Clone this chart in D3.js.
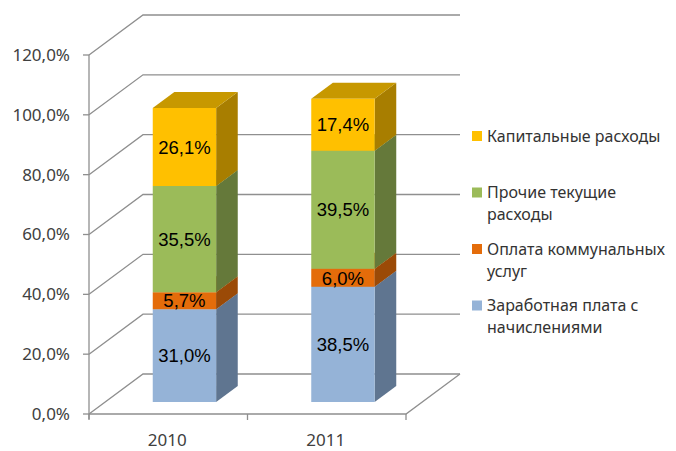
<!DOCTYPE html>
<html>
<head>
<meta charset="utf-8">
<script src="https://cdn.jsdelivr.net/npm/d3@7"></script>
<style>
  body { margin: 0; background: #fff; }
  svg { display: block; }
</style>
</head>
<body>
<script>
const years = ["2010", "2011"];
const seriesNames = [
  "Заработная плата с начислениями",
  "Оплата коммунальных услуг",
  "Прочие текущие расходы",
  "Капитальные расходы"
];
// values in %, bottom to top
const wages = [31.0, 38.5];
const utilities = [5.7, 6.0];
const otherCurrent = [35.5, 39.5];
const capital = [26.1, 17.4];
const yTicks = [0, 20, 40, 60, 80, 100, 120];
// legend is shown top to bottom, lines as they wrap
const legendLines = [
  ["Капитальные расходы"],
  ["Прочие текущие", "расходы"],
  ["Оплата коммунальных", "услуг"],
  ["Заработная плата с", "начислениями"]
];

const palette = [
  { front: "#95b3d7", side: "#5f7590", top: "#7891b0" },
  { front: "#e46c0a", side: "#9b4a07", top: "#bd5908" },
  { front: "#9bbb59", side: "#65793a", top: "#809a48" },
  { front: "#ffc000", side: "#a87e00", top: "#c79800" }
];
const legendColors = ["#ffc000", "#9bbb59", "#e46c0a", "#95b3d7"];

const width = 676, height = 451;
const DX = 54, DY = 40;        // depth of the 3d box
const z0 = 0.3, z1 = 0.7;      // bar depth within the box

const svg = d3.select("body").append("svg")
  .attr("width", width)
  .attr("height", height);

const x = d3.scaleBand()
  .domain(years)
  .range([89, 406])
  .paddingInner(0.6)
  .paddingOuter(0.3);

const y = d3.scaleLinear()
  .domain([0, 120])
  .range([414, 55]);

const proj = (px, v, z) => [px + z * DX, y(v) - z * DY];
const poly = pts => "M" + pts.map(p => p.join(",")).join("L") + "Z";

const gridColor = "#8f8f8f";
const grid = svg.append("g")
  .attr("fill", "none")
  .attr("stroke", gridColor)
  .attr("stroke-width", 1.3);

// gridlines on left wall + back wall
yTicks.forEach(t => {
  const a = proj(x.range()[0], t, 0), b = proj(x.range()[0], t, 1), c = proj(x.range()[1], t, 1);
  grid.append("path").attr("d", `M${a}L${b}L${c}`);
});

// floor
const x0 = x.range()[0], x1 = x.range()[1];
grid.append("path").attr("d", `M${proj(x0, 0, 0)}L${proj(x1, 0, 0)}L${proj(x1, 0, 1)}`);

// vertical axis
grid.append("line")
  .attr("x1", x0).attr("x2", x0)
  .attr("y1", y(120)).attr("y2", y(0) + 5);
yTicks.forEach(t => {
  grid.append("line")
    .attr("x1", x0 - 6).attr("x2", x0)
    .attr("y1", y(t)).attr("y2", y(t));
});
// category ticks
[x0, x0 + x.step(), x1].forEach(px => {
  grid.append("line")
    .attr("x1", px).attr("x2", px)
    .attr("y1", y(0)).attr("y2", y(0) + 6);
});

svg.append("g")
  .attr("font-family", "'Noto Sans', sans-serif")
  .attr("font-size", 17)
  .attr("fill", "#404040")
  .selectAll("text")
  .data(yTicks)
  .join("text")
  .attr("x", 70)
  .attr("y", d => y(d))
  .attr("dy", "0.35em")
  .attr("text-anchor", "end")
  .text(d => d3.format(".1f")(d).replace(".", ",") + "%");

svg.append("g")
  .attr("font-family", "'Noto Sans', sans-serif")
  .attr("font-size", 17)
  .attr("fill", "#404040")
  .selectAll("text")
  .data(years)
  .join("text")
  .attr("x", d => x(d) + x.bandwidth() / 2 - 1)
  .attr("y", 446)
  .attr("text-anchor", "middle")
  .text(d => d);

// stacked bars
const table = years.map((yr, i) => ({
  year: yr, vals: [wages[i], utilities[i], otherCurrent[i], capital[i]]
}));
const stack = d3.stack().keys([0, 1, 2, 3]).value((d, k) => d.vals[k]);
const layers = stack(table);

const bars = svg.append("g");
const labels = [];
table.forEach((d, i) => {
  const bx0 = x(d.year), bx1 = bx0 + x.bandwidth();
  layers.forEach((layer, k) => {
    const [v0, v1] = layer[i];
    const col = palette[k];
    const g = bars.append("g");
    // side
    g.append("path")
      .attr("d", poly([proj(bx1, v0, z0), proj(bx1, v0, z1), proj(bx1, v1, z1), proj(bx1, v1, z0)]))
      .attr("fill", col.side);
    // top
    g.append("path")
      .attr("d", poly([proj(bx0, v1, z0), proj(bx1, v1, z0), proj(bx1, v1, z1), proj(bx0, v1, z1)]))
      .attr("fill", col.top);
    // front
    g.append("path")
      .attr("d", poly([proj(bx0, v0, z0), proj(bx1, v0, z0), proj(bx1, v1, z0), proj(bx0, v1, z0)]))
      .attr("fill", col.front);
    const c = proj((bx0 + bx1) / 2, (v0 + v1) / 2, z0);
    labels.push({ x: c[0], y: c[1], v: v1 - v0 });
  });
});

svg.append("g")
  .attr("font-family", "'Liberation Sans', Arial, sans-serif")
  .attr("font-size", 18.5)
  .attr("fill", "#000")
  .selectAll("text")
  .data(labels)
  .join("text")
  .attr("x", d => d.x)
  .attr("y", d => d.y)
  .attr("dy", "0.36em")
  .attr("text-anchor", "middle")
  .text(d => d3.format(".1f")(d.v).replace(".", ",") + "%");

// legend
const legend = svg.append("g")
  .attr("font-family", "'Noto Sans', sans-serif")
  .attr("font-size", 16)
  .attr("fill", "#333");
legendLines.forEach((lines, i) => {
  const ly = 136 + 56.5 * i;
  legend.append("rect")
    .attr("x", 472).attr("y", ly - 5)
    .attr("width", 10).attr("height", 10)
    .attr("fill", legendColors[i]);
  const t = legend.append("text")
    .attr("x", 487).attr("y", ly);
  lines.forEach((ln, j) => {
    t.append("tspan")
      .attr("x", 487)
      .attr("dy", j === 0 ? "0.35em" : 22)
      .text(ln);
  });
});
</script>
</body>
</html>
